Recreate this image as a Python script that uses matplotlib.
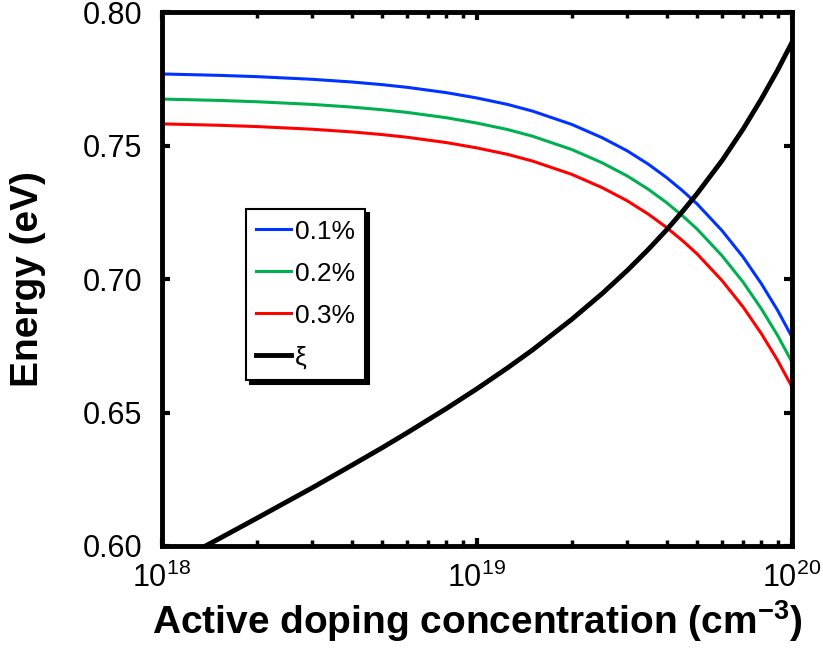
import matplotlib
matplotlib.use("Agg")
import matplotlib.pyplot as plt
from matplotlib.ticker import LogLocator, NullFormatter, FixedLocator, FormatStrFormatter

plt.rcParams['font.family'] = ['Liberation Sans', 'DejaVu Sans']
plt.rcParams['mathtext.fontset'] = 'custom'
plt.rcParams['mathtext.rm'] = 'Liberation Sans'
plt.rcParams['mathtext.it'] = 'Liberation Sans:italic'
plt.rcParams['mathtext.bf'] = 'Liberation Sans:bold'

# Data (doping concentration in cm^-3, energy in eV)
doping = [1.0e18, 1.5e18, 2.0e18, 3.0e18, 4.0e18, 5.0e18, 6.0e18, 8.0e18,
          1.0e19, 1.25e19, 1.5e19, 2.0e19, 2.5e19, 3.0e19, 3.5e19, 4.0e19,
          4.5e19, 5.0e19, 6.0e19, 7.0e19, 8.0e19, 9.0e19, 1.0e20]
e_01 = [0.7768, 0.7763, 0.7758, 0.7748, 0.7738, 0.7728, 0.7718, 0.7698,
        0.7678, 0.7654, 0.7629, 0.7579, 0.7529, 0.7480, 0.7430, 0.7380,
        0.7330, 0.7281, 0.7181, 0.7082, 0.6982, 0.6883, 0.6783]
e_02 = [0.7674, 0.7669, 0.7664, 0.7654, 0.7644, 0.7634, 0.7624, 0.7604,
        0.7584, 0.7560, 0.7535, 0.7485, 0.7435, 0.7386, 0.7336, 0.7286,
        0.7236, 0.7187, 0.7087, 0.6988, 0.6888, 0.6789, 0.6689]
e_03 = [0.7581, 0.7576, 0.7571, 0.7561, 0.7551, 0.7541, 0.7531, 0.7511,
        0.7491, 0.7467, 0.7442, 0.7392, 0.7342, 0.7293, 0.7243, 0.7193,
        0.7143, 0.7094, 0.6994, 0.6895, 0.6795, 0.6696, 0.6596]

doping_xi = [1.3e18, 1.5e18, 2.0e18, 3.0e18, 4.0e18, 5.0e18, 6.0e18, 8.0e18,
             1.0e19, 1.25e19, 1.5e19, 2.0e19, 2.5e19, 3.0e19, 3.5e19, 4.0e19,
             4.5e19, 5.0e19, 6.0e19, 7.0e19, 8.0e19, 9.0e19, 1.0e20]
xi = [0.5985, 0.6024, 0.6104, 0.6218, 0.6302, 0.6368, 0.6424, 0.6515,
      0.6589, 0.6667, 0.6734, 0.6849, 0.6946, 0.7032, 0.7111, 0.7184,
      0.7254, 0.7320, 0.7444, 0.7562, 0.7675, 0.7782, 0.7886]

labels = ['0.1%', '0.2%', '0.3%', 'ξ']
colors = ['#0033FF', '#00B050', '#FF0000', '#000000']

fig = plt.figure(figsize=(8.23, 6.5), dpi=100)
ax = fig.add_axes([0.1968, 0.16, 0.7655, 0.8215])

ax.plot(doping, e_01, color=colors[0], lw=2.2, label=labels[0])
ax.plot(doping, e_02, color=colors[1], lw=2.2, label=labels[1])
ax.plot(doping, e_03, color=colors[2], lw=2.2, label=labels[2])
ax.plot(doping_xi, xi, color=colors[3], lw=3.5, label=labels[3])

ax.set_xscale('log')
ax.set_xlim(1e18, 1e20)
ax.set_ylim(0.60, 0.80)
ax.yaxis.set_major_locator(FixedLocator([0.60, 0.65, 0.70, 0.75, 0.80]))
ax.yaxis.set_major_formatter(FormatStrFormatter('%.2f'))
ax.xaxis.set_major_locator(LogLocator(base=10, numticks=5))
ax.xaxis.set_minor_locator(LogLocator(base=10, subs=range(2, 10), numticks=20))
ax.xaxis.set_minor_formatter(NullFormatter())

for s in ax.spines.values():
    s.set_linewidth(3.5)

ax.tick_params(axis='both', which='major', direction='in', length=6, width=3,
               labelsize=22, top=True, right=True)
ax.tick_params(axis='x', which='minor', direction='in', length=4, width=2.5,
               top=True, bottom=True)
ax.tick_params(axis='x', which='major', pad=12)
ax.tick_params(axis='y', which='major', pad=14)

ax.set_xlabel('Active doping concentration (cm$^{\\mathbf{-3}}$)',
              fontsize=28, fontweight='bold')
ax.set_ylabel('Energy (eV)', fontsize=28, fontweight='bold')
ax.xaxis.set_label_coords(0.5, -0.097)
ax.yaxis.set_label_coords(-0.184, 0.5)

leg = ax.legend(loc='upper left', bbox_to_anchor=(0.133, 0.631), borderaxespad=0,
                fontsize=19, handlelength=1.3, handletextpad=0.15,
                labelspacing=0.68, fancybox=False, frameon=True,
                borderpad=0.4,
                shadow={'ox': 3, 'oy': -3, 'color': 'black', 'alpha': 1})
leg.get_frame().set_edgecolor('black')
leg.get_frame().set_linewidth(1.5)

fig.savefig('out.png', dpi=100)
